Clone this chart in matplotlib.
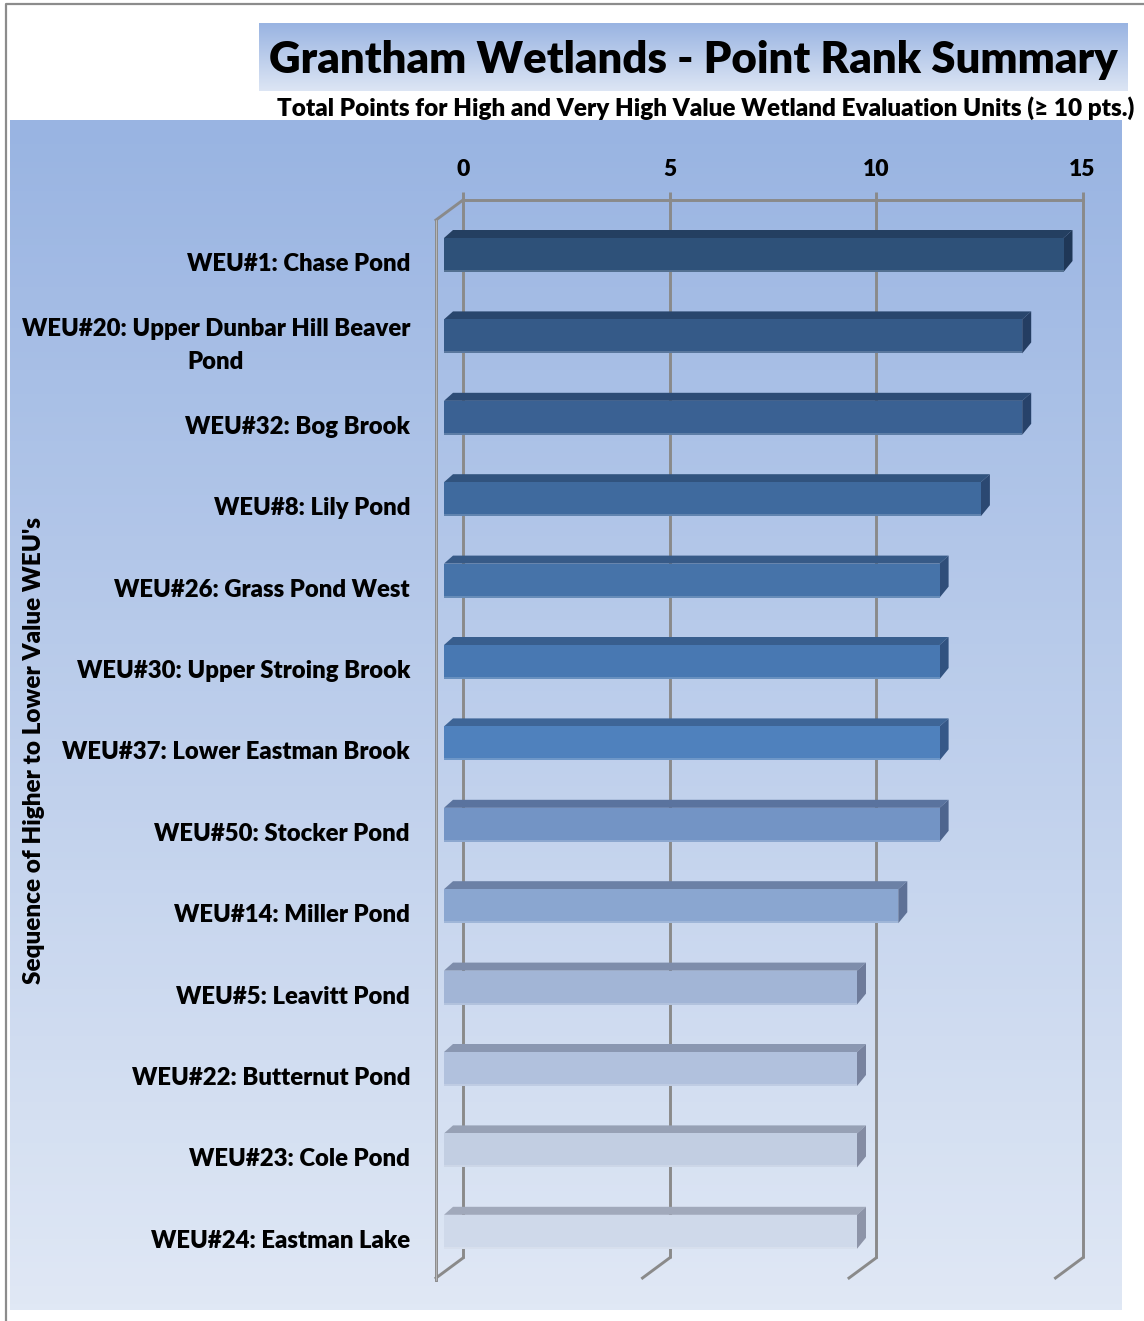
import numpy as np
import matplotlib.pyplot as plt
from matplotlib.patches import Polygon
from matplotlib.colors import LinearSegmentedColormap, to_rgb

plt.rcParams['font.family'] = ['Lato', 'DejaVu Sans']
plt.rcParams['font.weight'] = 'heavy'

# data
units = ["WEU#1: Chase Pond", "WEU#20: Upper Dunbar Hill Beaver\nPond", "WEU#32: Bog Brook",
         "WEU#8: Lily Pond", "WEU#26: Grass Pond West", "WEU#30: Upper Stroing Brook",
         "WEU#37: Lower Eastman Brook", "WEU#50: Stocker Pond", "WEU#14: Miller Pond",
         "WEU#5: Leavitt Pond", "WEU#22: Butternut Pond", "WEU#23: Cole Pond",
         "WEU#24: Eastman Lake"]
points = [15, 14, 14, 13, 12, 12, 12, 12, 11, 10, 10, 10, 10]
bar_colors = ["#2e5179", "#355a88", "#3a6193", "#3f6a9e", "#4673a9", "#4878b2", "#4f81bd",
              "#7394c5", "#8aa6d0", "#a2b5d6", "#b1c1dd", "#c2cee2", "#cfd9ea"]
ticks = [0, 5, 10, 15]

W, H = 1144, 1321
fig = plt.figure(figsize=(W / 100, H / 100), dpi=100)
fig.patch.set_facecolor('white')

def px_rect(x0, y0, x1, y1):
    return [x0 / W, 1 - y1 / H, (x1 - x0) / W, (y1 - y0) / H]

grad = LinearSegmentedColormap.from_list('bg', ['#99b4e2', '#e0e8f5'])
fw = 'heavy'

# outer frame
frame = fig.add_axes([0, 0, 1, 1])
frame.set_xlim(0, W)
frame.set_ylim(H, 0)
frame.axis('off')
frame.plot([6, 6, W], [H, 4, 4], color='#8c8c8c', lw=1.6)

# title box
tax = fig.add_axes(px_rect(259, 23, 1128, 91))
tax.imshow(np.linspace(0, 1, 100).reshape(-1, 1), aspect='auto', cmap=grad,
           extent=[0, 1, 0, 1], vmin=0, vmax=1.05)
tax.axis('off')
fig.text(693 / W, 1 - 60 / H, "Grantham Wetlands - Point Rank Summary", ha='center', va='center',
         fontsize=31.5, fontweight=fw)
fig.text(706 / W, 1 - 108 / H,
         "Total Points for High and Very High Value Wetland Evaluation Units (\u2265 10 pts.)",
         ha='center', va='center', fontsize=17.5, fontweight=fw)

# plot area
px_per_unit = 41.3
px_per_row = 81.4
x0_px, row0_px = 444, 255
ax = fig.add_axes(px_rect(10, 120, 1122, 1310))
xl = ((10 - x0_px) / px_per_unit, (1122 - x0_px) / px_per_unit)
yl = ((1310 - row0_px) / px_per_row, (120 - row0_px) / px_per_row)
ax.imshow(np.linspace(0, 1, 200).reshape(-1, 1), aspect='auto', cmap=grad,
          extent=[xl[0], xl[1], yl[0], yl[1]], zorder=0)
ax.set_xlim(*xl)
ax.set_ylim(*yl)
ax.axis('off')

def ux(p):
    return p / px_per_unit

def uy(p):
    return p / px_per_row

wall_dx = ux(19)
front_dx = ux(-8)
wall_top = uy(200 - row0_px)
wall_bot = uy(1258 - row0_px)
front_top = uy(220 - row0_px)
front_bot = uy(1280 - row0_px)
gc = '#8a8a8a'
glw = 2.1

for t in ticks:
    ax.plot([t + wall_dx, t + wall_dx], [wall_top - uy(8), wall_bot], color=gc, lw=glw, zorder=1,
            solid_capstyle='butt')
    ax.plot([t + wall_dx, t + wall_dx - ux(27)], [wall_bot, wall_bot + uy(20)], color=gc, lw=glw,
            zorder=1)
    ax.text(t + wall_dx, wall_top - uy(31), str(t), ha='center', va='center', fontsize=16.5,
            fontweight=fw)
ax.plot([wall_dx, ticks[-1] + wall_dx], [wall_top, wall_top], color=gc, lw=glw, zorder=1)
ax.plot([front_dx, wall_dx], [front_top, wall_top], color=gc, lw=glw, zorder=1)
ax.plot([front_dx, front_dx], [front_top, front_bot], color=gc, lw=glw, zorder=1)
ax.plot([front_dx, front_dx], [front_top, front_bot], color='#c8c8c8', lw=0.5, zorder=1)

# 3d bars
bh = uy(34)
bdx, bdy = ux(9), uy(-8)
rows = np.arange(len(points))
for i, (v, c) in enumerate(zip(points, bar_colors)):
    r, g, b = to_rgb(c)
    top_c = (r * 0.78, g * 0.78, b * 0.80)
    side_c = (r * 0.68, g * 0.68, b * 0.72)
    yt = i - bh / 2
    ax.add_patch(Polygon([(0, yt), (v, yt), (v + bdx, yt + bdy), (bdx, yt + bdy)],
                         closed=True, facecolor=top_c, edgecolor='none', zorder=3))
    ax.add_patch(Polygon([(v, yt), (v + bdx, yt + bdy), (v + bdx, yt + bh + bdy - uy(3)),
                          (v, yt + bh)], closed=True, facecolor=side_c, edgecolor='none', zorder=3))
ax.barh(rows, points, height=bh, left=0, color=bar_colors, edgecolor='none', zorder=4)
ax.barh(rows + bh / 2 - uy(1), points, height=uy(2), left=0,
        color=[(1, 1, 1, 0.18)] * len(points), edgecolor='none', zorder=5)

for i, name in enumerate(units):
    ax.text(ux(410 - x0_px), i + uy(9), name, ha='right', va='center', fontsize=17.2,
            fontweight=fw, multialignment='center', linespacing=1.65)

fig.text(34 / W, 1 - 750 / H, "Sequence of Higher to Lower Value WEU's", rotation=90,
         ha='center', va='center', fontsize=17.5, fontweight=fw)

fig.savefig('out.png', dpi=100)
